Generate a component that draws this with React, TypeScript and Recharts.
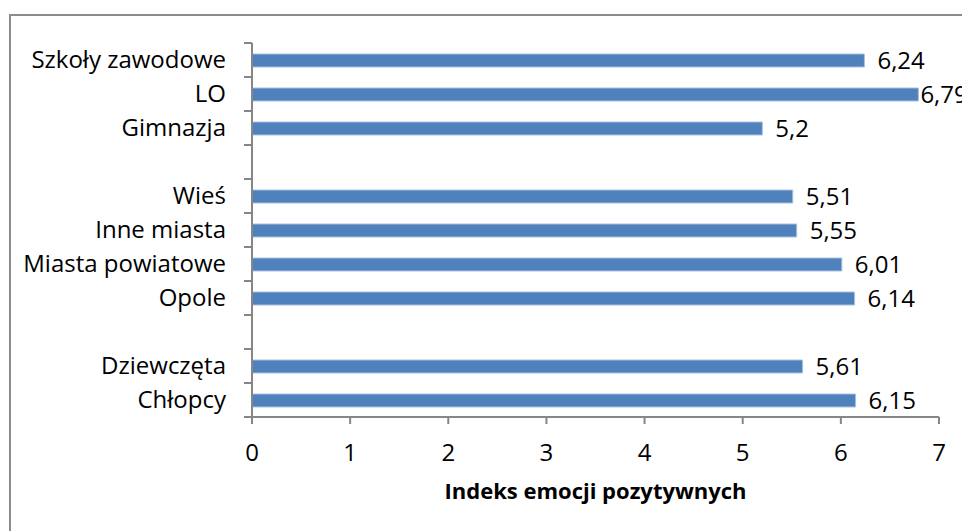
import { BarChart, Bar, XAxis, YAxis, LabelList } from "recharts";

// categories top to bottom, blanks are the spacer rows between groups
const categories = [
  "Szkoły zawodowe",
  "LO",
  "Gimnazja",
  "",
  "Wieś",
  "Inne miasta",
  "Miasta powiatowe",
  "Opole",
  "",
  "Dziewczęta",
  "Chłopcy",
];
const values: (number | null)[] = [6.24, 6.79, 5.2, null, 5.51, 5.55, 6.01, 6.14, null, 5.61, 6.15];
const xTicks = [0, 1, 2, 3, 4, 5, 6, 7];
const axisTitle = "Indeks emocji pozytywnych";

const FONT = "'Open Sans', Lato, sans-serif";
const FS = 24;
const AXIS_COLOR = "#868686";
const BAR_COLOR = "#4F81BD";

const W = 962;
const H = 531;
const TOP = 43;
const BOTTOM_AXIS_Y = 417;
const BAND = (BOTTOM_AXIS_Y - TOP) / categories.length;

const data = categories.map((name, i) => ({ id: `c${i}`, name, value: values[i] }));

const fmt = (v: number) => String(v).replace(".", ",");

function CategoryTick(props: any) {
  const { x, y, payload, index } = props;
  const label = categories[payload.index ?? index] ?? "";
  const lx = x + 18; // tick starts here, axis line at x + 26
  return (
    <g>
      <line x1={lx} x2={lx + 8} y1={y - BAND / 2} y2={y - BAND / 2} stroke={AXIS_COLOR} strokeWidth={2} />
      {index === categories.length - 1 && (
        <line x1={lx} x2={lx + 8} y1={y + BAND / 2} y2={y + BAND / 2} stroke={AXIS_COLOR} strokeWidth={2} />
      )}
      <text x={x} y={y} dy="0.35em" textAnchor="end" fontSize={FS} fontFamily={FONT} fill="#000">
        {label}
      </text>
    </g>
  );
}

function ValueLabel(props: any) {
  const { x, y, width, height, value } = props;
  if (value == null) return null;
  const end = x + width;
  const text = fmt(value);
  const approxW = text.length * 11.5;
  // Excel pulls the label in when it would run off the chart
  const lx = end + 13 + approxW > W ? end + 2 : end + 13;
  return (
    <text x={lx} y={y + height / 2} dy="0.35em" fontSize={FS} fontFamily={FONT} fill="#000">
      {text}
    </text>
  );
}

export default function App() {
  return (
    <div style={{ position: "absolute", left: 0, top: 0, width: W, height: H, overflow: "hidden", background: "#fff" }}>
      <div
        style={{
          position: "absolute",
          left: 9,
          top: 14,
          width: W + 20,
          height: H + 20,
          border: "2px solid #8c8c8c",
          boxSizing: "border-box",
        }}
      />
      <BarChart
        width={W}
        height={H}
        data={data}
        layout="vertical"
        margin={{ top: TOP, right: W - 939, bottom: 0, left: 0 }}
        style={{ position: "absolute", left: 0, top: 0 }}
      >
        <XAxis
          type="number"
          domain={[0, 7]}
          ticks={xTicks}
          height={H - BOTTOM_AXIS_Y}
          stroke={AXIS_COLOR}
          strokeWidth={2}
          tickSize={7}
          tickMargin={20}
          tick={{ fontSize: FS, fontFamily: FONT, fill: "#000" }}
          label={{
            value: axisTitle,
            position: "insideBottom",
            offset: 32,
            style: { fontSize: 22, fontWeight: 700, fontFamily: FONT, fill: "#000" },
          }}
        />
        <YAxis
          type="category"
          dataKey="id"
          width={252}
          stroke={AXIS_COLOR}
          strokeWidth={2}
          tickLine={false}
          tickSize={8}
          tickMargin={18}
          interval={0}
          tick={<CategoryTick />}
        />
        <Bar dataKey="value" fill={BAR_COLOR} stroke="#a9c0df" strokeWidth={1} barSize={13} isAnimationActive={false}>
          <LabelList dataKey="value" content={<ValueLabel />} />
        </Bar>
      </BarChart>
    </div>
  );
}
